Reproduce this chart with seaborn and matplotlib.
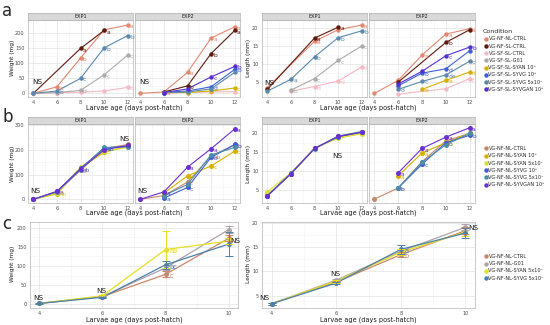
import numpy as np
import pandas as pd
import matplotlib
matplotlib.use("Agg")
import matplotlib.pyplot as plt
from matplotlib.lines import Line2D
import seaborn as sns

nan = np.nan
ages = [4, 6, 8, 10, 12]
ages_c = [4, 6, 8, 10]

# ---- panel a : conditions and values ----
cond_a = ['VG-NF-NL-CTRL', 'VG-NF-SL-CTRL', 'VG-SF-SL-CTRL', 'VG-SF-SL-G01',
          'VG-SF-SL-SYAN 10⁸', 'VG-SF-SL-SYVG 10⁸', 'VG-SF-SL-SYVG 5x10⁷', 'VG-SF-SL-SYVGAN 10⁸']
col_a = ['#E3876F', '#5E1A0F', '#F6B8C4', '#ABABAB', '#D6B000', '#3D62D6', '#5A89AD', '#5530CF']

wa_exp1 = {
    'VG-NF-NL-CTRL': [0, 22, 118, 212, 228],
    'VG-NF-SL-CTRL': [0, nan, 150, 210, nan],
    'VG-SF-SL-CTRL': [0, 2, 4, 8, 20],
    'VG-SF-SL-G01': [0, 3, 10, 62, 128],
    'VG-SF-SL-SYVG 5x10⁷': [0, 8, 50, 152, 193],
}
wa_exp2 = {
    'VG-NF-NL-CTRL': [0, 5, 70, 185, 222],
    'VG-NF-SL-CTRL': [nan, 5, 25, 133, 210],
    'VG-SF-SL-CTRL': [nan, 2, 3, 5, 6],
    'VG-SF-SL-SYAN 10⁸': [nan, 2, 3, 8, 18],
    'VG-SF-SL-SYVG 10⁸': [nan, 3, 8, 22, 80],
    'VG-SF-SL-SYVG 5x10⁷': [nan, 2, 5, 15, 70],
    'VG-SF-SL-SYVGAN 10⁸': [nan, 3, 15, 55, 90],
}
la_exp1 = {
    'VG-NF-NL-CTRL': [3.5, nan, 16.3, 19.5, 20.8],
    'VG-NF-SL-CTRL': [3.0, nan, 17.2, 20.2, nan],
    'VG-SF-SL-CTRL': [nan, 2.5, 3.8, 5.3, 9.2],
    'VG-SF-SL-G01': [nan, 2.8, 6.0, 11.0, 15.0],
    'VG-SF-SL-SYVG 5x10⁷': [2.5, 5.8, 12.0, 17.3, 19.2],
}
la_exp2 = {
    'VG-NF-NL-CTRL': [1.9, 5.5, 12.5, 18.3, 19.8],
    'VG-NF-SL-CTRL': [nan, 5.0, nan, 16.0, 19.5],
    'VG-SF-SL-CTRL': [nan, 1.7, nan, 3.2, 6.0],
    'VG-SF-SL-SYAN 10⁸': [nan, nan, 3.0, 5.5, 7.8],
    'VG-SF-SL-SYVG 10⁸': [nan, 4.0, 7.5, 8.7, 13.7],
    'VG-SF-SL-SYVG 5x10⁷': [nan, 3.0, 5.2, 7.0, 10.8],
    'VG-SF-SL-SYVGAN 10⁸': [nan, 4.5, 8.0, 12.3, 14.7],
}

# ---- panel b ----
cond_b = ['VG-NF-NL-CTRL', 'VG-NF-NL-SYAN 10⁸', 'VG-NF-NL-SYAN 5x10⁷',
          'VG-NF-NL-SYVG 10⁸', 'VG-NF-NL-SYVG 5x10⁷', 'VG-NF-NL-SYVGAN 10⁸']
col_b = ['#C98769', '#D6B000', '#D9E030', '#3D5ED2', '#4A8FAA', '#6A30D0']

wb_exp1 = {
    'VG-NF-NL-CTRL': [0, 28, 118, 205, 222],
    'VG-NF-NL-SYAN 10⁸': [0, 22, 128, 190, 215],
    'VG-NF-NL-SYAN 5x10⁷': [0, 25, 130, 195, 210],
    'VG-NF-NL-SYVG 10⁸': [0, 32, 125, 208, 215],
    'VG-NF-NL-SYVG 5x10⁷': [0, 30, 120, 210, 212],
    'VG-NF-NL-SYVGAN 10⁸': [0, 32, 122, 200, 218],
}
wb_exp2 = {
    'VG-NF-NL-CTRL': [0, 15, 70, 175, 220],
    'VG-NF-NL-SYAN 10⁸': [nan, 25, 95, 135, 195],
    'VG-NF-NL-SYVG 10⁸': [nan, 5, 48, 170, 222],
    'VG-NF-NL-SYVG 5x10⁷': [nan, 15, 60, 180, 210],
    'VG-NF-NL-SYVGAN 10⁸': [0, 30, 130, 205, 285],
}
lb_exp1 = {
    'VG-NF-NL-CTRL': [3.5, 9.3, 16.0, 19.2, 20.3],
    'VG-NF-NL-SYAN 10⁸': [3.6, 9.2, 16.0, 19.0, 20.2],
    'VG-NF-NL-SYAN 5x10⁷': [4.5, 9.5, 16.1, 18.7, 19.9],
    'VG-NF-NL-SYVG 10⁸': [3.4, 9.3, 16.0, 19.1, 20.4],
    'VG-NF-NL-SYVG 5x10⁷': [3.3, 9.4, 15.9, 19.3, 20.5],
    'VG-NF-NL-SYVGAN 10⁸': [3.4, 9.3, 16.0, 19.2, 20.3],
}
lb_exp2 = {
    'VG-NF-NL-CTRL': [2.5, 5.5, 12.5, 18.0, 20.0],
    'VG-NF-NL-SYAN 10⁸': [nan, 8.7, 14.8, 17.5, 20.0],
    'VG-NF-NL-SYVG 10⁸': [nan, 5.5, 11.8, 17.5, 19.5],
    'VG-NF-NL-SYVG 5x10⁷': [nan, 5.5, 12.3, 17.0, 20.0],
    'VG-NF-NL-SYVGAN 10⁸': [nan, 9.5, 16.0, 19.0, 21.5],
}

# ---- panel c ----
cond_c = ['VG-NF-NL-CTRL', 'VG-NF-NL-G01', 'VG-NF-NL-SYAN 5x10⁷', 'VG-NF-NL-SYVG 5x10⁷']
col_c = ['#C98769', '#ADA3AA', '#E6E020', '#4A80AA']
wc_mean = {
    'VG-NF-NL-CTRL': [2, 20, 78, 172],
    'VG-NF-NL-G01': [2, 20, 95, 195],
    'VG-NF-NL-SYAN 5x10⁷': [2, 22, 143, 165],
    'VG-NF-NL-SYVG 5x10⁷': [2, 18, 103, 157],
}
wc_err = {
    'VG-NF-NL-CTRL': [1, 2, 8, 8],
    'VG-NF-NL-G01': [1, 2, 5, 10],
    'VG-NF-NL-SYAN 5x10⁷': [1, 2, 48, 8],
    'VG-NF-NL-SYVG 5x10⁷': [1, 2, 10, 32],
}
lc_mean = {
    'VG-NF-NL-CTRL': [3.3, 7.8, 13.5, 18.5],
    'VG-NF-NL-G01': [3.3, 8.2, 14.2, 19.2],
    'VG-NF-NL-SYAN 5x10⁷': [3.3, 8.0, 14.0, 18.2],
    'VG-NF-NL-SYVG 5x10⁷': [3.3, 7.6, 14.6, 18.0],
}
lc_err = {
    'VG-NF-NL-CTRL': [0.2, 0.3, 0.5, 0.8],
    'VG-NF-NL-G01': [0.2, 0.3, 0.5, 0.6],
    'VG-NF-NL-SYAN 5x10⁷': [0.2, 0.3, 0.6, 0.8],
    'VG-NF-NL-SYVG 5x10⁷': [0.2, 0.3, 0.9, 1.0],
}

# significance letters: (condition, age, letter)
let_wa1 = [('VG-NF-SL-CTRL', 8, 'a'), ('VG-NF-NL-CTRL', 8, 'b'), ('VG-SF-SL-SYVG 5x10⁷', 8, 'c'),
           ('VG-SF-SL-G01', 8, 'd'), ('VG-NF-SL-CTRL', 10, 'a'), ('VG-SF-SL-SYVG 5x10⁷', 10, 'b'),
           ('VG-SF-SL-G01', 10, 'c'), ('VG-NF-NL-CTRL', 12, 'a'), ('VG-SF-SL-SYVG 5x10⁷', 12, 'b'),
           ('VG-SF-SL-G01', 12, 'c'), ('VG-SF-SL-CTRL', 12, 'd'), ('VG-NF-NL-CTRL', 6, 'a'),
           ('VG-SF-SL-SYVG 5x10⁷', 6, 'b')]
let_wa2 = [('VG-NF-NL-CTRL', 8, 'a'), ('VG-NF-SL-CTRL', 8, 'b'), ('VG-NF-NL-CTRL', 10, 'a'),
           ('VG-NF-SL-CTRL', 10, 'b'), ('VG-SF-SL-SYVGAN 10⁸', 10, 'c'), ('VG-SF-SL-SYVG 10⁸', 10, 'd'),
           ('VG-NF-NL-CTRL', 12, 'a'), ('VG-NF-SL-CTRL', 12, 'a'), ('VG-SF-SL-SYVGAN 10⁸', 12, 'b'),
           ('VG-SF-SL-SYVG 10⁸', 12, 'b'), ('VG-SF-SL-SYAN 10⁸', 12, 'c'), ('VG-NF-NL-CTRL', 6, 'a')]
let_la1 = [('VG-NF-SL-CTRL', 8, 'a'), ('VG-NF-NL-CTRL', 8, 'a'), ('VG-SF-SL-SYVG 5x10⁷', 8, 'b'),
           ('VG-SF-SL-G01', 8, 'c'), ('VG-SF-SL-CTRL', 8, 'd'), ('VG-NF-SL-CTRL', 10, 'a'),
           ('VG-SF-SL-SYVG 5x10⁷', 10, 'b'), ('VG-SF-SL-G01', 10, 'c'), ('VG-SF-SL-CTRL', 10, 'd'),
           ('VG-NF-NL-CTRL', 12, 'a'), ('VG-SF-SL-SYVG 5x10⁷', 12, 'b'), ('VG-SF-SL-G01', 12, 'c'),
           ('VG-SF-SL-CTRL', 12, 'd'), ('VG-SF-SL-SYVG 5x10⁷', 6, 'a'), ('VG-SF-SL-G01', 6, 'b')]
let_la2 = [('VG-NF-NL-CTRL', 8, 'a'), ('VG-SF-SL-SYVG 10⁸', 8, 'b'), ('VG-SF-SL-SYVG 5x10⁷', 8, 'c'),
           ('VG-SF-SL-SYAN 10⁸', 8, 'e'), ('VG-NF-NL-CTRL', 10, 'a'), ('VG-NF-SL-CTRL', 10, 'b'),
           ('VG-SF-SL-SYVGAN 10⁸', 10, 'c'), ('VG-SF-SL-SYVG 10⁸', 10, 'd'), ('VG-SF-SL-SYVG 5x10⁷', 10, 'de'),
           ('VG-SF-SL-SYAN 10⁸', 10, 'e'), ('VG-NF-NL-CTRL', 12, 'a'), ('VG-SF-SL-SYVGAN 10⁸', 12, 'b'),
           ('VG-SF-SL-SYVG 5x10⁷', 12, 'c'), ('VG-SF-SL-SYAN 10⁸', 12, 'd'), ('VG-SF-SL-CTRL', 12, 'f'),
           ('VG-SF-SL-SYVG 5x10⁷', 6, 'd')]
let_wb2 = [('VG-NF-NL-SYVGAN 10⁸', 6, 'a'), ('VG-NF-NL-SYVG 10⁸', 6, 'a'), ('VG-NF-NL-SYVGAN 10⁸', 8, 'a'),
           ('VG-NF-NL-SYAN 10⁸', 8, 'b'), ('VG-NF-NL-CTRL', 8, 'c'), ('VG-NF-NL-SYVG 10⁸', 8, 'c'),
           ('VG-NF-NL-SYVGAN 10⁸', 10, 'a'), ('VG-NF-NL-CTRL', 10, 'ab'), ('VG-NF-NL-SYVG 10⁸', 10, 'b'),
           ('VG-NF-NL-SYAN 10⁸', 10, 'c'), ('VG-NF-NL-SYVGAN 10⁸', 12, 'a'), ('VG-NF-NL-CTRL', 12, 'b'),
           ('VG-NF-NL-SYVG 10⁸', 12, 'b'), ('VG-NF-NL-SYAN 10⁸', 12, 'c')]
let_wb1 = [('VG-NF-NL-SYVGAN 10⁸', 6, 'a'), ('VG-NF-NL-SYAN 5x10⁷', 6, 'ab'), ('VG-NF-NL-CTRL', 6, 'b'),
           ('VG-NF-NL-SYAN 5x10⁷', 8, 'a'), ('VG-NF-NL-SYVG 10⁸', 8, 'ab'), ('VG-NF-NL-CTRL', 8, 'b'),
           ('VG-NF-NL-SYVG 5x10⁷', 10, 'a'), ('VG-NF-NL-SYVG 10⁸', 10, 'ab'), ('VG-NF-NL-SYAN 5x10⁷', 10, 'b')]
let_lb2 = [('VG-NF-NL-SYVGAN 10⁸', 6, 'a'), ('VG-NF-NL-SYAN 10⁸', 6, 'a'), ('VG-NF-NL-CTRL', 6, 'b'),
           ('VG-NF-NL-SYVG 10⁸', 6, 'b'), ('VG-NF-NL-SYVGAN 10⁸', 8, 'a'), ('VG-NF-NL-SYAN 10⁸', 8, 'a'),
           ('VG-NF-NL-SYVG 10⁸', 8, 'c'), ('VG-NF-NL-SYVGAN 10⁸', 10, 'a'), ('VG-NF-NL-SYVG 10⁸', 10, 'b'),
           ('VG-NF-NL-SYAN 10⁸', 10, 'b'), ('VG-NF-NL-SYVGAN 10⁸', 12, 'a'), ('VG-NF-NL-SYVG 10⁸', 12, 'b')]
let_wc = [('VG-NF-NL-SYAN 5x10⁷', 8, 'ab'), ('VG-NF-NL-SYVG 5x10⁷', 8, 'bc'), ('VG-NF-NL-CTRL', 8, 'c')]
let_lc = [('VG-NF-NL-SYVG 5x10⁷', 8, 'a'), ('VG-NF-NL-CTRL', 8, 'b')]

W, H = 550, 325
sns.set_theme(style="whitegrid")
plt.rcParams['font.family'] = ['DejaVu Sans']
fig = plt.figure(figsize=(5.5, 3.25), dpi=100)


def box(x0, y0, x1, y1):
    return [x0 / W, 1 - y1 / H, (x1 - x0) / W, (y1 - y0) / H]


def to_long(d, xs):
    rows = []
    for k, v in d.items():
        for x, y in zip(xs, v):
            if not np.isnan(y):
                rows.append({'age': x, 'val': y, 'cond': k})
    return pd.DataFrame(rows)


def style_ax(ax, xlim, ylim, yticks, xticks, show_y=True):
    ax.set_xlim(*xlim)
    ax.set_ylim(*ylim)
    ax.set_xticks(xticks)
    ax.set_yticks(yticks)
    ax.set_xticks([x + 1 for x in xticks[:-1]], minor=True)
    ys = list(yticks)
    ax.set_yticks([(ys[i] + ys[i + 1]) / 2 for i in range(len(ys) - 1)], minor=True)
    ax.grid(True, which='major', color='#e3e3e3', lw=0.5)
    ax.grid(True, which='minor', color='#f2f2f2', lw=0.4)
    ax.tick_params(labelsize=3.6, length=1.5, pad=1, colors='#4d4d4d', width=0.4)
    ax.tick_params(which='minor', length=0)
    for s in ax.spines.values():
        s.set_color('#b3b3b3')
        s.set_linewidth(0.5)
    if not show_y:
        ax.set_yticklabels([])
    ax.set_xlabel('')
    ax.set_ylabel('')


def strip(rect, label):
    sax = fig.add_axes(rect)
    sax.set_facecolor('#d9d9d9')
    sax.set_xticks([])
    sax.set_yticks([])
    for s in sax.spines.values():
        s.set_color('#b3b3b3')
        s.set_linewidth(0.5)
    sax.text(0.5, 0.45, label, ha='center', va='center', fontsize=3.6, color='#1a1a1a')


def facet(rect, d, xs, conds, cols, xlim, ylim, yticks, letters, show_y=True, ms=3.2):
    ax = fig.add_axes(rect)
    df = to_long(d, xs)
    pal = {c: col for c, col in zip(conds, cols)}
    sns.lineplot(data=df, x='age', y='val', hue='cond', palette=pal, marker='o',
                 markersize=ms, markeredgewidth=0, lw=0.8, legend=False, ax=ax)
    dy = (ylim[1] - ylim[0]) * 0.02
    for c, x, t in letters:
        y = d[c][xs.index(x)]
        ax.text(x + 0.2, y - dy, t, fontsize=4.3, color=pal[c], va='center', ha='left')
    style_ax(ax, xlim, ylim, yticks, xs, show_y)
    return ax


def add_legend(conds, cols, x, y, title=None, spacing=0.25):
    handles = [Line2D([], [], ls='', marker='o', color=c, markersize=3.2, markeredgewidth=0) for c in cols]
    leg = fig.legend(handles, conds, loc='upper left', bbox_to_anchor=(x / W, 1 - y / H),
                     frameon=False, fontsize=3.6, handletextpad=0.1, labelspacing=spacing,
                     borderaxespad=0, handlelength=1.0, title=title, title_fontsize=4.5)
    if title:
        leg._legend_box.align = 'left'


NS = dict(fontsize=5.2, color='#1a1a1a')

# ---- row a ----
ra = (20, 97)
axw1 = facet(box(28, ra[0], 133, ra[1]), wa_exp1, ages, cond_a, col_a, (3.55, 12.45), (-12, 245),
             [0, 50, 100, 150, 200], let_wa1)
axw2 = facet(box(135, ra[0], 240, ra[1]), wa_exp2, ages, cond_a, col_a, (3.55, 12.45), (-12, 245),
             [0, 50, 100, 150, 200], let_wa2, show_y=False)
axl1 = facet(box(262, ra[0], 367, ra[1]), la_exp1, ages, cond_a, col_a, (3.55, 12.45), (0.9, 22.2),
             [5, 10, 15, 20], let_la1)
axl2 = facet(box(369, ra[0], 475, ra[1]), la_exp2, ages, cond_a, col_a, (3.55, 12.45), (0.9, 22.2),
             [5, 10, 15, 20], let_la2, show_y=False)
for x0, x1, lab in [(28, 133, 'EXP1'), (135, 240, 'EXP2'), (262, 367, 'EXP1'), (369, 475, 'EXP2')]:
    strip(box(x0, 13, x1, 20), lab)
axw1.text(3.9, 30, 'NS', **NS)
axw2.text(3.9, 30, 'NS', **NS)
axl1.text(3.7, 4.3, 'NS', **NS)

# ---- row b ----
rb = (124, 203)
bw1 = facet(box(28, rb[0], 133, rb[1]), wb_exp1, ages, cond_b, col_b, (3.55, 12.45), (-15, 305),
            [0, 100, 200, 300], let_wb1, ms=3.6)
bw2 = facet(box(135, rb[0], 240, rb[1]), wb_exp2, ages, cond_b, col_b, (3.55, 12.45), (-15, 305),
            [0, 100, 200, 300], let_wb2, show_y=False, ms=3.6)
bl1 = facet(box(262, rb[0], 367, rb[1]), lb_exp1, ages, cond_b, col_b, (3.55, 12.45), (1.5, 22.5),
            [5, 10, 15, 20], [], ms=3.6)
bl2 = facet(box(369, rb[0], 475, rb[1]), lb_exp2, ages, cond_b, col_b, (3.55, 12.45), (1.5, 22.5),
            [5, 10, 15, 20], let_lb2, show_y=False, ms=3.6)
for x0, x1, lab in [(28, 133, 'EXP1'), (135, 240, 'EXP2'), (262, 367, 'EXP1'), (369, 475, 'EXP2')]:
    strip(box(x0, 117, x1, 124), lab)
bw1.text(3.7, 25, 'NS', **NS)
bw1.text(11.3, 238, 'NS', **NS)
bw2.text(3.7, 25, 'NS', **NS)
bl1.text(9.5, 13.5, 'NS', **NS)

# ---- row c ----
rc = (222, 308)
pal_c = {c: col for c, col in zip(cond_c, col_c)}
for rect, mean, err, ylim, yticks, letters, ns in [
        (box(30, rc[0], 238, rc[1]), wc_mean, wc_err, (-10, 215), [0, 50, 100, 150, 200], let_wc,
         [(3.8, 12), (5.8, 30), (10.05, 160)]),
        (box(262, rc[0], 475, rc[1]), lc_mean, lc_err, (2.4, 20.3), [5, 10, 15, 20], let_lc,
         [(3.6, 4.0), (5.8, 9.0), (10.1, 18.6)])]:
    ax = fig.add_axes(rect)
    df = to_long(mean, ages_c)
    sns.lineplot(data=df, x='age', y='val', hue='cond', palette=pal_c, marker='o', markersize=3.6,
                 markeredgewidth=0, lw=0.9, legend=False, ax=ax)
    for c in cond_c:
        ax.errorbar(ages_c, mean[c], yerr=err[c], fmt='none', ecolor=pal_c[c], elinewidth=0.7,
                    capsize=3, capthick=0.7)
    dy = (ylim[1] - ylim[0]) * 0.02
    for c, x, t in letters:
        y = mean[c][ages_c.index(x)]
        ax.text(x + 0.12, y - dy, t, fontsize=4.8, color=pal_c[c], va='center')
    for x, y in ns:
        ax.text(x, y, 'NS', **NS)
    style_ax(ax, (3.7, 10.3), ylim, yticks, ages_c)
    ax.set_xticks([5, 7, 9], minor=True)

# axis labels
for y in [107.5, 213, 320]:
    fig.text(134 / W, 1 - y / H, 'Larvae age (days post-hatch)', fontsize=4.7, ha='center', va='center', color='#1a1a1a')
    fig.text(368 / W, 1 - y / H, 'Larvae age (days post-hatch)', fontsize=4.7, ha='center', va='center', color='#1a1a1a')
for yc in [58, 164, 264]:
    fig.text(13 / W, 1 - yc / H, 'Weight (mg)', fontsize=4.2, rotation=90, ha='center', va='center', color='#1a1a1a')
    fig.text(249 / W, 1 - yc / H, 'Length (mm)', fontsize=4.2, rotation=90, ha='center', va='center', color='#1a1a1a')

fig.text(2 / W, 1 - 11 / H, 'a', fontsize=12, ha='left', va='center')
fig.text(2 / W, 1 - 117 / H, 'b', fontsize=12, ha='left', va='center')
fig.text(2 / W, 1 - 224 / H, 'c', fontsize=12, ha='left', va='center')

add_legend(cond_a, col_a, 481, 27, title='Condition', spacing=0.45)
add_legend(cond_b, col_b, 481, 144, spacing=0.45)
add_legend(cond_c, col_c, 481, 252, spacing=0.45)

fig.savefig('out.png', dpi=100)
